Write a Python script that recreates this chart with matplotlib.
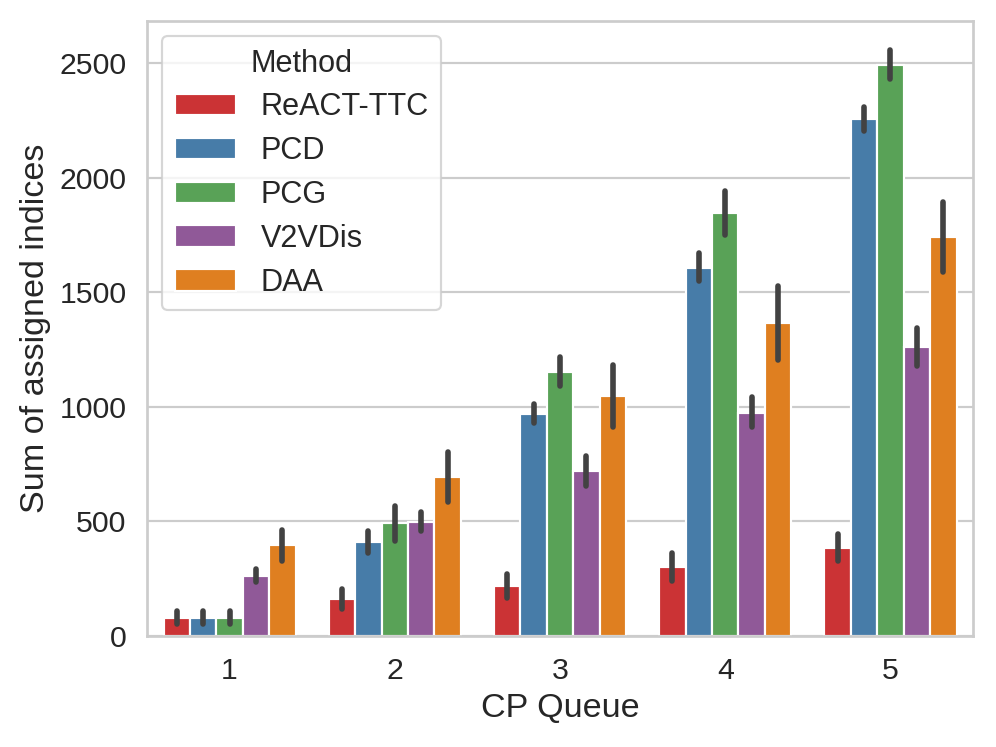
import numpy as np
import matplotlib
matplotlib.use("Agg")
import matplotlib.pyplot as plt
import seaborn as sns

queues = ["1", "2", "3", "4", "5"]
methods = ["ReACT-TTC", "PCD", "PCG", "V2VDis", "DAA"]

# mean of each bar, per method, per queue
means = {
    "ReACT-TTC": [80, 160, 216, 300, 384],
    "PCD": [80, 410, 970, 1607, 2256],
    "PCG": [80, 492, 1152, 1847, 2490],
    "V2VDis": [262, 499, 719, 975, 1261],
    "DAA": [396, 692, 1046, 1364, 1742],
}
# confidence interval ends (low, high)
ci_low = {
    "ReACT-TTC": [52, 119, 166, 241, 326],
    "PCD": [52, 361, 931, 1548, 2205],
    "PCG": [52, 413, 1092, 1750, 2429],
    "V2VDis": [235, 457, 654, 911, 1179],
    "DAA": [328, 585, 913, 1204, 1590],
}
ci_high = {
    "ReACT-TTC": [110, 204, 270, 363, 445],
    "PCD": [110, 459, 1012, 1672, 2309],
    "PCG": [110, 567, 1219, 1943, 2557],
    "V2VDis": [291, 541, 785, 1044, 1345],
    "DAA": [462, 803, 1184, 1527, 1895],
}

sns.set_theme(style="whitegrid", context="notebook")
plt.rcParams["font.family"] = ["Liberation Sans", "DejaVu Sans"]

colors = [sns.desaturate(c, 0.75) for c in sns.color_palette("Set1", 5)]

fig = plt.figure(figsize=(6.4, 4.8), dpi=155.625)
ax = fig.add_axes([0.1476, 0.1486, 0.8294, 0.8233])

index = np.arange(len(queues))
width = 0.8 / len(methods)
for i, m in enumerate(methods):
    x = index - 0.4 + width * (i + 0.5)
    ax.bar(x, means[m], width=width, color=colors[i], label=m,
           edgecolor="white", linewidth=1.0, zorder=2)
    ax.vlines(x, ci_low[m], ci_high[m], color=".26", linewidth=2.6,
              capstyle="round", zorder=3)

ax.set_xticks(index)
ax.set_xticklabels(queues)
ax.tick_params(labelsize=14)
ax.set_xlim(-0.5, len(queues) - 0.5)
ax.set_ylim(0, 2683)
ax.grid(axis="x", visible=False)
ax.set_axisbelow(True)
ax.set_xlabel("CP Queue", fontsize=15.8)
ax.set_ylabel("Sum of assigned indices", fontsize=15.8)
ax.legend(title="Method", loc="upper left", fontsize=14.2, title_fontsize=14.2,
          labelspacing=0.45)

fig.savefig("out.png", dpi=155.625)
